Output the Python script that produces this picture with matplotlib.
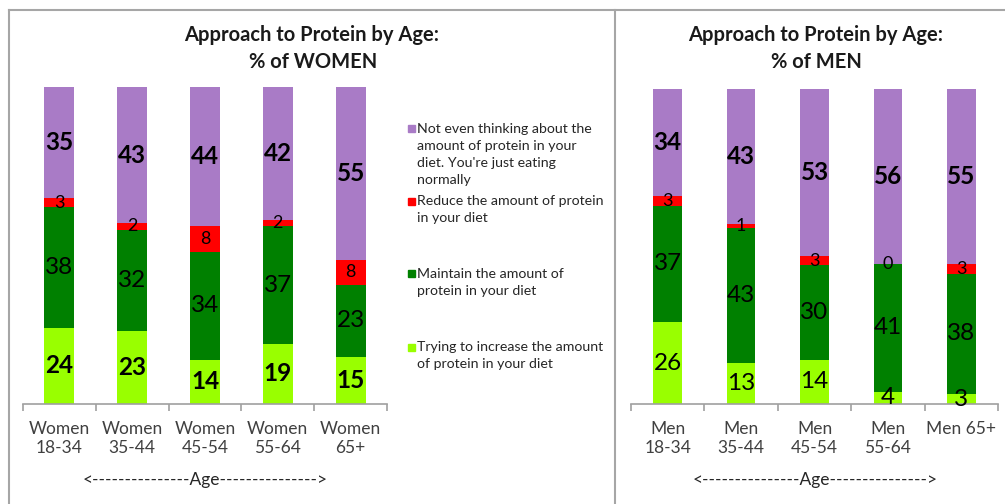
import matplotlib.pyplot as plt
import numpy as np
from matplotlib.lines import Line2D
from matplotlib.patches import Rectangle

# Dados (% de cada resposta por faixa etaria)
women_labels = ["Women\n18-34", "Women\n35-44", "Women\n45-54", "Women\n55-64", "Women\n65+"]
women_increase = [24, 23, 14, 19, 15]
women_maintain = [38, 32, 34, 37, 23]
women_reduce = [3, 2, 8, 2, 8]
women_not = [35, 43, 44, 42, 55]

men_labels = ["Men\n18-34", "Men\n35-44", "Men\n45-54", "Men\n55-64", "Men 65+"]
men_increase = [26, 13, 14, 4, 3]
men_maintain = [37, 43, 30, 41, 38]
men_reduce = [3, 1, 3, 0, 3]
men_not = [34, 43, 53, 56, 55]

series_names = [
    "Trying to increase the amount\nof protein in your diet",
    "Maintain the amount of\nprotein in your diet",
    "Reduce the amount of protein\nin your diet",
    "Not even thinking about the\namount of protein in your\ndiet. You're just eating\nnormally",
]
cores = ["#99FF00", "#008000", "#FF0000", "#A97BC6"]

plt.rcParams["font.family"] = ["Lato", "DejaVu Sans"]

W, H = 1005, 504
fig = plt.figure(figsize=(W / 100, H / 100), dpi=100)


def fx(x):
    return x / W


def fy(y):
    return 1 - y / H


def desenha(ax, labels, series, bold_flags, width):
    x = np.arange(len(labels))
    totais = np.sum(series, axis=0)
    base = np.zeros(len(labels))
    for i, vals in enumerate(series):
        vals = np.array(vals, dtype=float)
        h = vals / totais * 100
        ax.bar(x, h, width, bottom=base, color=cores[i], linewidth=0)
        for xi, b, hi, v in zip(x, base, h, vals):
            if i == 2:
                size, weight = 13, "normal"
            else:
                size, weight = 17.5, "bold" if bold_flags[i] else "normal"
            ax.text(xi, b + hi / 2, f"{int(v)}", ha="center", va="center",
                    fontsize=size, fontweight=weight, color="black")
        base += h
    ax.set_xlim(-0.5, len(labels) - 0.5)
    ax.set_ylim(0, 100)
    ax.set_xticks(x)
    ax.set_xticklabels(labels, fontsize=12.5, color="#404040", linespacing=1.25)
    ax.set_xticks(np.arange(len(labels) + 1) - 0.5, minor=True)
    ax.tick_params(axis="x", which="major", length=0, pad=12)
    ax.tick_params(axis="x", which="minor", length=5, color="#A0A0A0", width=1.2)
    ax.set_yticks([])
    for s in ["left", "right", "top"]:
        ax.spines[s].set_visible(False)
    ax.spines["bottom"].set_color("#A0A0A0")
    ax.spines["bottom"].set_linewidth(1.2)


# Painel mulheres
ax1 = fig.add_axes([fx(23), fy(404), fx(387 - 23), (404 - 87) / H])
desenha(ax1, women_labels,
        [women_increase, women_maintain, women_reduce, women_not],
        [True, False, False, True], 0.41)

# Painel homens
ax2 = fig.add_axes([fx(631), fy(404), fx(998 - 631), (404 - 89) / H])
desenha(ax2, men_labels,
        [men_increase, men_maintain, men_reduce, men_not],
        [False, False, False, True], 0.39)

# Titulos
titulo = dict(ha="center", va="center", fontsize=14.5, fontweight="bold", color="#1a1a1a")
fig.text(fx(312), fy(35), "Approach to Protein by Age:", **titulo)
fig.text(fx(313), fy(62), "% of WOMEN", **titulo)
fig.text(fx(816), fy(35), "Approach to Protein by Age:", **titulo)
fig.text(fx(816), fy(62), "% of MEN", **titulo)

# Eixo "Age"
seta = "<---------------Age--------------->"
fig.text(fx(205), fy(480), seta, ha="center", va="center", fontsize=12.5, color="#262626")
fig.text(fx(815), fy(480), seta, ha="center", va="center", fontsize=12.5, color="#262626")

# Legenda manual
ordem = [3, 2, 1, 0]
posicoes = [(128, 154.5), (201, 209.5), (273, 282.5), (347, 355.5)]
for idx, (y_mark, y_txt) in zip(ordem, posicoes):
    fig.add_artist(Rectangle((fx(408), fy(y_mark + 3.5)), fx(7), 7 / H,
                             color=cores[idx], transform=fig.transFigure))
    fig.text(fx(417), fy(y_txt), series_names[idx], ha="left", va="center",
             fontsize=10.2, color="#262626", linespacing=1.5)

# Bordas
borda = "#A6A6A6"
fig.add_artist(Line2D([fx(9), fx(1005)], [fy(10), fy(10)], color=borda, lw=1.5))
fig.add_artist(Line2D([fx(9), fx(9)], [fy(10), 0], color=borda, lw=1.5))
fig.add_artist(Line2D([fx(615), fx(615)], [fy(10), 0], color=borda, lw=1.5))

fig.savefig("out.png", dpi=100)
